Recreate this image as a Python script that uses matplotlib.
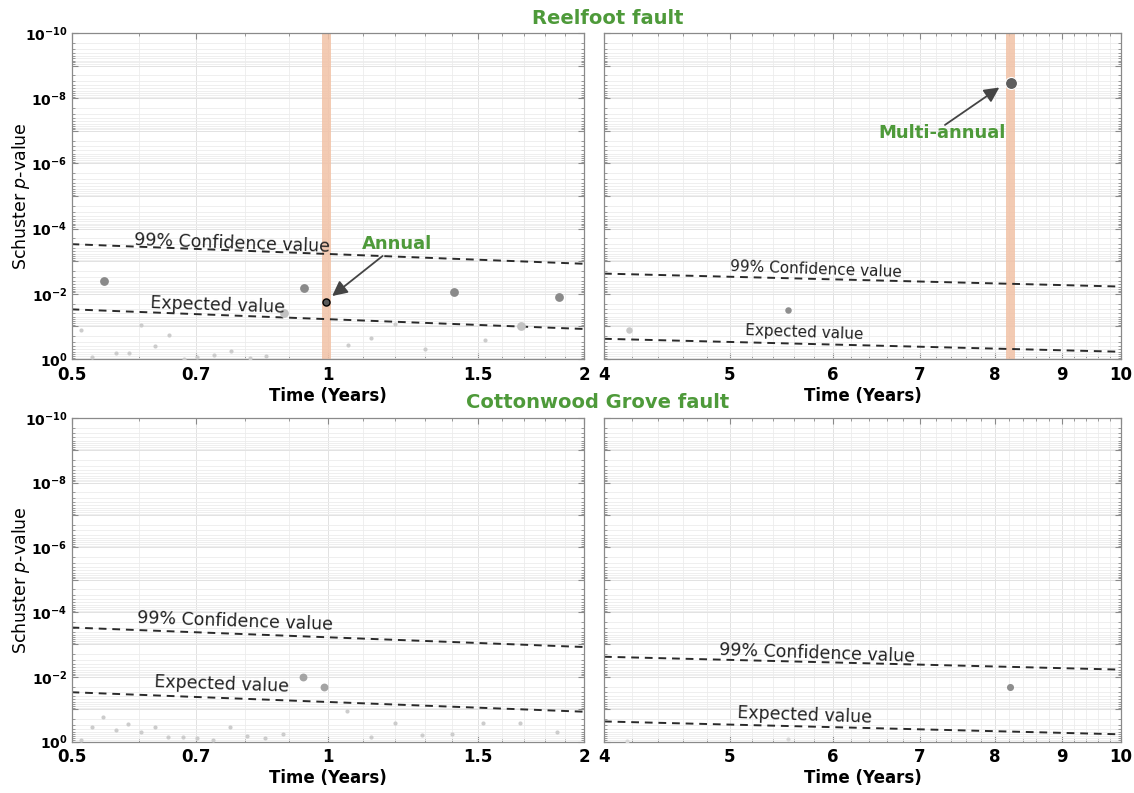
import numpy as np
import matplotlib
matplotlib.use("Agg")
import matplotlib.pyplot as plt
from matplotlib.ticker import FixedLocator, NullFormatter, LogLocator

plt.rcParams['font.family'] = ['DejaVu Sans']

# ---------------- data ----------------
# Threshold lines (p-value at the ends of each period window)
short_t = [0.5, 2.0]
long_t = [4.0, 10.0]
conf99_short = [3.0e-4, 1.2e-3]
expected_short = [3.0e-2, 1.2e-1]
conf99_long = [2.4e-3, 6.0e-3]
expected_long = [2.4e-1, 6.0e-1]

# Reelfoot fault, 0.5-2 yr
rf_short_strong_t = [0.546, 0.939, 1.406, 1.87]
rf_short_strong_p = [4.1e-3, 6.8e-3, 8.9e-3, 1.26e-2]
rf_short_mid_t = [0.889, 1.685]
rf_short_mid_p = [3.8e-2, 9.8e-2]
rf_short_weak_t = [0.513, 0.529, 0.564, 0.584, 0.604, 0.626, 0.651, 0.677, 0.703,
                   0.736, 0.77, 0.81, 0.846, 1.056, 1.125, 1.2, 1.3, 1.53]
rf_short_weak_p = [0.129, 0.87, 0.65, 0.65, 0.091, 0.40, 0.18, 0.98, 0.87,
                   0.76, 0.56, 0.95, 0.83, 0.38, 0.22, 0.085, 0.49, 0.26]
rf_annual_t = [0.995]
rf_annual_p = [1.74e-2]

# Reelfoot fault, 4-10 yr
rf_long_strong_t = [5.54]
rf_long_strong_p = [3.2e-2]
rf_long_weak_t = [4.18]
rf_long_weak_p = [0.13]
rf_multi_t = [8.23]
rf_multi_p = [3.5e-9]

# Cottonwood Grove fault, 0.5-2 yr
cg_short_strong_t = [0.936, 0.99]
cg_short_strong_p = [1.02e-2, 2.14e-2]
cg_short_weak_t = [0.513, 0.528, 0.544, 0.564, 0.583, 0.604, 0.626, 0.65, 0.676,
                   0.703, 0.734, 0.767, 0.803, 0.844, 0.885, 1.053, 1.124, 1.2,
                   1.29, 1.4, 1.52, 1.68, 1.86]
cg_short_weak_p = [0.87, 0.35, 0.17, 0.43, 0.28, 0.52, 0.35, 0.71, 0.74,
                   0.79, 0.87, 0.36, 0.69, 0.78, 0.60, 0.112, 0.74, 0.26,
                   0.62, 0.58, 0.26, 0.26, 0.51]

# Cottonwood Grove fault, 4-10 yr
cg_long_strong_t = [8.22]
cg_long_strong_p = [2.1e-2]
cg_long_weak_t = [4.17, 5.54]
cg_long_weak_p = [0.98, 0.83]

short_ticks = [0.5, 0.7, 1, 1.5, 2]
short_ticklabels = ['0.5', '0.7', '1', '1.5', '2']
long_ticks = [4, 5, 6, 7, 8, 9, 10]
long_ticklabels = ['4', '5', '6', '7', '8', '9', '10']

annual_band = [0.985, 1.009]
multi_band = [8.16, 8.28]

GREEN = '#4e9a3a'
BAND = '#f2c2a6'

# ---------------- figure ----------------
fig = plt.figure(figsize=(11.34, 7.93), dpi=100)
W, H = 1134, 793


def make_axes(left, right, top, bottom):
    return fig.add_axes([left / W, 1 - bottom / H, (right - left) / W, (bottom - top) / H])


ax_tl = make_axes(71.5, 584, 33, 359)
ax_tr = make_axes(604, 1121, 33, 359)
ax_bl = make_axes(71.5, 584, 418, 741.5)
ax_br = make_axes(604, 1121, 418, 741.5)


def style_axes(ax, xlim, ticks, labels, minor_step, show_ylabels):
    ax.set_xscale('log')
    ax.set_yscale('log')
    ax.set_xlim(*xlim)
    ax.set_ylim(1.0, 1e-10)
    ax.xaxis.set_major_locator(FixedLocator(ticks))
    ax.set_xticklabels(labels, fontsize=12, fontweight='bold')
    minors = np.arange(xlim[0], xlim[1] + 1e-9, minor_step)
    ax.xaxis.set_minor_locator(FixedLocator(minors))
    ax.xaxis.set_minor_formatter(NullFormatter())
    decades = [10.0 ** -k for k in range(0, 11)]
    ax.yaxis.set_major_locator(FixedLocator(decades))
    if show_ylabels:
        ax.set_yticklabels(['$\\mathbf{10^{%d}}$' % (-k) if k % 2 == 0 else ''
                            for k in range(0, 11)], fontsize=10)
    else:
        ax.set_yticklabels([])
    ax.yaxis.set_minor_locator(LogLocator(base=10, subs=np.arange(2, 10), numticks=30))
    ax.yaxis.set_minor_formatter(NullFormatter())
    ax.grid(True, which='major', color='#e2e2e2', lw=0.7)
    ax.grid(True, which='minor', color='#ececec', lw=0.6)
    ax.set_axisbelow(True)
    ax.tick_params(which='both', direction='in', top=True, right=True,
                   color='#8a8a8a')
    ax.tick_params(axis='x', pad=5)
    ax.tick_params(axis='y', pad=3)
    ax.tick_params(which='major', length=4)
    ax.tick_params(which='minor', length=2.5)
    for s in ax.spines.values():
        s.set_color('#8a8a8a')
        s.set_linewidth(0.9)
    ax.set_xlabel('Time (Years)', fontsize=12, fontweight='bold', labelpad=2)
    if show_ylabels:
        ax.set_ylabel('Schuster $p$-value', fontsize=12.5)
        ax.yaxis.set_label_coords(-0.077, 0.5)


style_axes(ax_tl, (0.5, 2.0), short_ticks, short_ticklabels, 0.1, True)
style_axes(ax_bl, (0.5, 2.0), short_ticks, short_ticklabels, 0.1, True)
style_axes(ax_tr, (4.0, 10.0), long_ticks, long_ticklabels, 0.2, False)
style_axes(ax_br, (4.0, 10.0), long_ticks, long_ticklabels, 0.2, False)

dash_kw = dict(color='#2a2a2a', lw=1.4, dashes=(4, 3), zorder=2)
for ax in (ax_tl, ax_bl):
    ax.plot(short_t, conf99_short, **dash_kw)
    ax.plot(short_t, expected_short, **dash_kw)
for ax in (ax_tr, ax_br):
    ax.plot(long_t, conf99_long, **dash_kw)
    ax.plot(long_t, expected_long, **dash_kw)

# highlighted periods
ax_tl.axvspan(*annual_band, color=BAND, alpha=0.85, lw=0, zorder=1)
ax_tr.axvspan(*multi_band, color=BAND, alpha=0.85, lw=0, zorder=1)

weak_kw = dict(s=9, color='#cccccc', lw=0, zorder=3)
mid_kw = dict(s=40, color='#c2c2c2', lw=0, zorder=3)
strong_kw = dict(s=40, color='#8a8a8a', lw=0, zorder=3)

# Reelfoot 0.5-2 yr
ax_tl.scatter(rf_short_weak_t, rf_short_weak_p, **weak_kw)
ax_tl.scatter(rf_short_mid_t, rf_short_mid_p, **mid_kw)
ax_tl.scatter(rf_short_strong_t, rf_short_strong_p, **strong_kw)
ax_tl.scatter(rf_annual_t, rf_annual_p, s=26, color='#5a5a5a', edgecolor='black',
              lw=1.0, zorder=4)

# Reelfoot 4-10 yr
ax_tr.scatter(rf_long_weak_t, rf_long_weak_p, s=22, color='#c8c8c8', lw=0, zorder=3)
ax_tr.scatter(rf_long_strong_t, rf_long_strong_p, s=22, color='#8e8e8e', lw=0, zorder=3)
ax_tr.scatter(rf_multi_t, rf_multi_p, s=75, color='#5e5e5e', edgecolor='white',
              lw=0.8, zorder=4)

# Cottonwood Grove 0.5-2 yr
ax_bl.scatter(cg_short_weak_t, cg_short_weak_p, **weak_kw)
ax_bl.scatter(cg_short_strong_t, cg_short_strong_p, s=32, color='#a4a4a4', lw=0, zorder=3)

# Cottonwood Grove 4-10 yr
ax_br.scatter(cg_long_weak_t, cg_long_weak_p, s=9, color='#d8d8d8', lw=0, zorder=3)
ax_br.scatter(cg_long_strong_t, cg_long_strong_p, s=26, color='#8e8e8e', lw=0, zorder=3)

# threshold labels
lab_kw = dict(color='#222222', ha='left', va='center', rotation=-2,
              rotation_mode='anchor', zorder=5)
ax_tl.text(0.592, 2.2e-4, '99% Confidence value', fontsize=12.5, **lab_kw)
ax_tl.text(0.618, 1.9e-2, 'Expected value', fontsize=12.5, **lab_kw)
ax_tr.text(5.0, 1.5e-3, '99% Confidence value', fontsize=11, **lab_kw)
ax_tr.text(5.14, 1.29e-1, 'Expected value', fontsize=11, **lab_kw)
ax_bl.text(0.597, 1.55e-4, '99% Confidence value', fontsize=12.5, **lab_kw)
ax_bl.text(0.625, 1.49e-2, 'Expected value', fontsize=12.5, **lab_kw)
ax_br.text(4.91, 1.48e-3, '99% Confidence value', fontsize=12.5, **lab_kw)
ax_br.text(5.07, 1.28e-1, 'Expected value', fontsize=12.5, **lab_kw)

# callouts
arrow_kw = dict(arrowstyle='-|>,head_length=0.9,head_width=0.45', color='#444444',
                lw=1.3, shrinkA=0, shrinkB=0)
ax_tl.annotate('', xy=(1.012, 1.17e-2), xytext=(1.16, 6.9e-4),
               arrowprops=arrow_kw, zorder=6)
ax_tl.text(1.205, 2.97e-4, 'Annual', color=GREEN, fontsize=13, fontweight='bold',
           ha='center', va='center', zorder=6)
ax_tr.annotate('', xy=(8.06, 4.7e-9), xytext=(7.32, 6.6e-8),
               arrowprops=arrow_kw, zorder=6)
ax_tr.text(7.28, 1.17e-7, 'Multi-annual', color=GREEN, fontsize=13, fontweight='bold',
           ha='center', va='center', zorder=6)

# panel row titles
fig.text(608 / W, 1 - 18 / H, 'Reelfoot fault', color=GREEN, fontsize=14,
         fontweight='bold', ha='center', va='center')
fig.text(598 / W, 1 - 403 / H, 'Cottonwood Grove fault', color=GREEN, fontsize=14,
         fontweight='bold', ha='center', va='center')

fig.savefig('out.png', dpi=100, facecolor='white')
